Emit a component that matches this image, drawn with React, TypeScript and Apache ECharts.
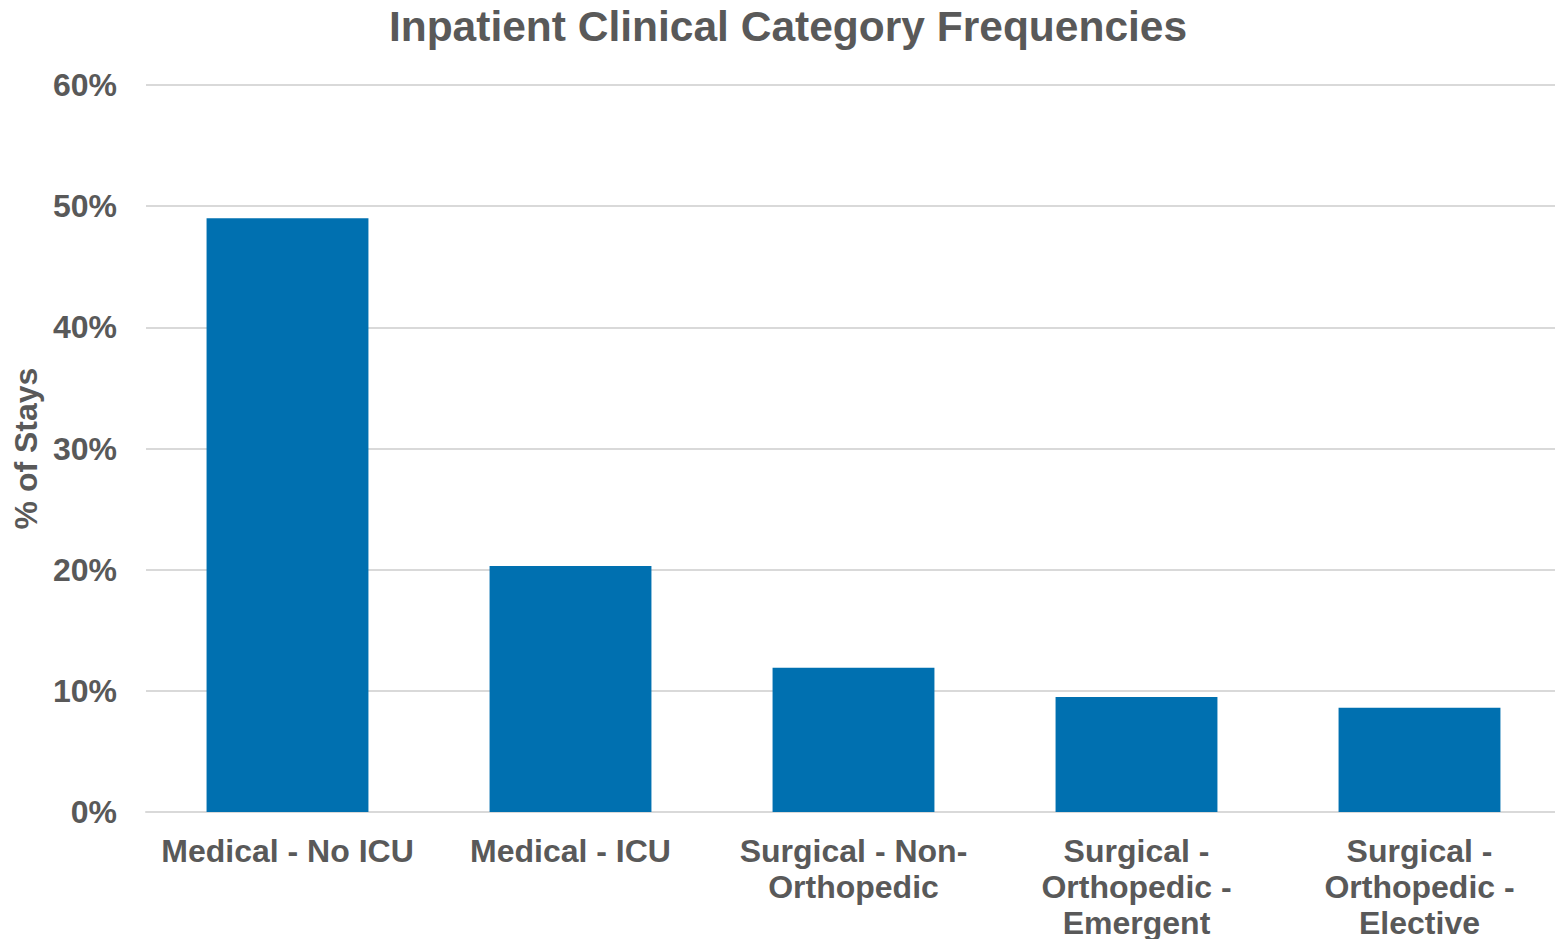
import React, { useEffect, useRef } from "react";
import * as echarts from "echarts";

const categories = [
  "Medical - No ICU",
  "Medical - ICU",
  "Surgical - Non-Orthopedic",
  "Surgical - Orthopedic - Emergent",
  "Surgical - Orthopedic - Elective",
];
const tickLabels = [
  "Medical - No ICU",
  "Medical - ICU",
  "Surgical - Non-\nOrthopedic",
  "Surgical -\nOrthopedic -\nEmergent",
  "Surgical -\nOrthopedic -\nElective",
];
const shareOfStays = [49.0, 20.3, 11.9, 9.5, 8.6];

const FONT = "'Liberation Sans', Arial, sans-serif";
const GREY = "#595959";

export default function App() {
  const ref = useRef<HTMLDivElement>(null);
  useEffect(() => {
    if (!ref.current) return;
    const chart = echarts.init(ref.current, undefined, { renderer: "svg" });
    chart.setOption({
      animation: false,
      title: {
        text: "Inpatient Clinical Category Frequencies",
        left: 783,
        textAlign: "center",
        top: 0,
        textStyle: { fontFamily: FONT, fontSize: 42.5, fontWeight: "bold", color: GREY },
      },
      grid: {
        left: 146,
        right: -6,
        top: 85,
        bottom: 127,
        containLabel: false,
        outerBoundsMode: "none",
      },
      xAxis: {
        type: "category",
        data: categories,
        axisLine: { lineStyle: { color: "#d9d9d9", width: 2 } },
        axisTick: { show: false },
        axisLabel: {
          interval: 0,
          margin: 21,
          fontFamily: FONT,
          fontSize: 32,
          fontWeight: "bold",
          color: GREY,
          lineHeight: 36,
          formatter: (_v: string, i: number) => tickLabels[i],
        },
      },
      yAxis: {
        type: "value",
        min: 0,
        max: 60,
        interval: 10,
        name: "% of Stays",
        nameLocation: "middle",
        nameGap: 97,
        nameRotate: 90,
        nameTextStyle: { fontFamily: FONT, fontSize: 32, fontWeight: "bold", color: GREY },
        axisLine: { show: false },
        axisTick: { show: false },
        splitLine: { lineStyle: { color: "#d9d9d9", width: 2 } },
        axisLabel: {
          margin: 29,
          fontFamily: FONT,
          fontSize: 32,
          fontWeight: "bold",
          color: GREY,
          formatter: (v: number) => `${v}%`,
        },
      },
      series: [
        {
          type: "bar",
          data: shareOfStays,
          barWidth: "57.2%",
          itemStyle: { color: "#0070B0" },
        },
      ],
    });
    return () => chart.dispose();
  }, []);
  return (
    <div
      ref={ref}
      style={{ position: "fixed", left: 0, top: 0, width: 1555, height: 939, background: "#fff" }}
    />
  );
}
